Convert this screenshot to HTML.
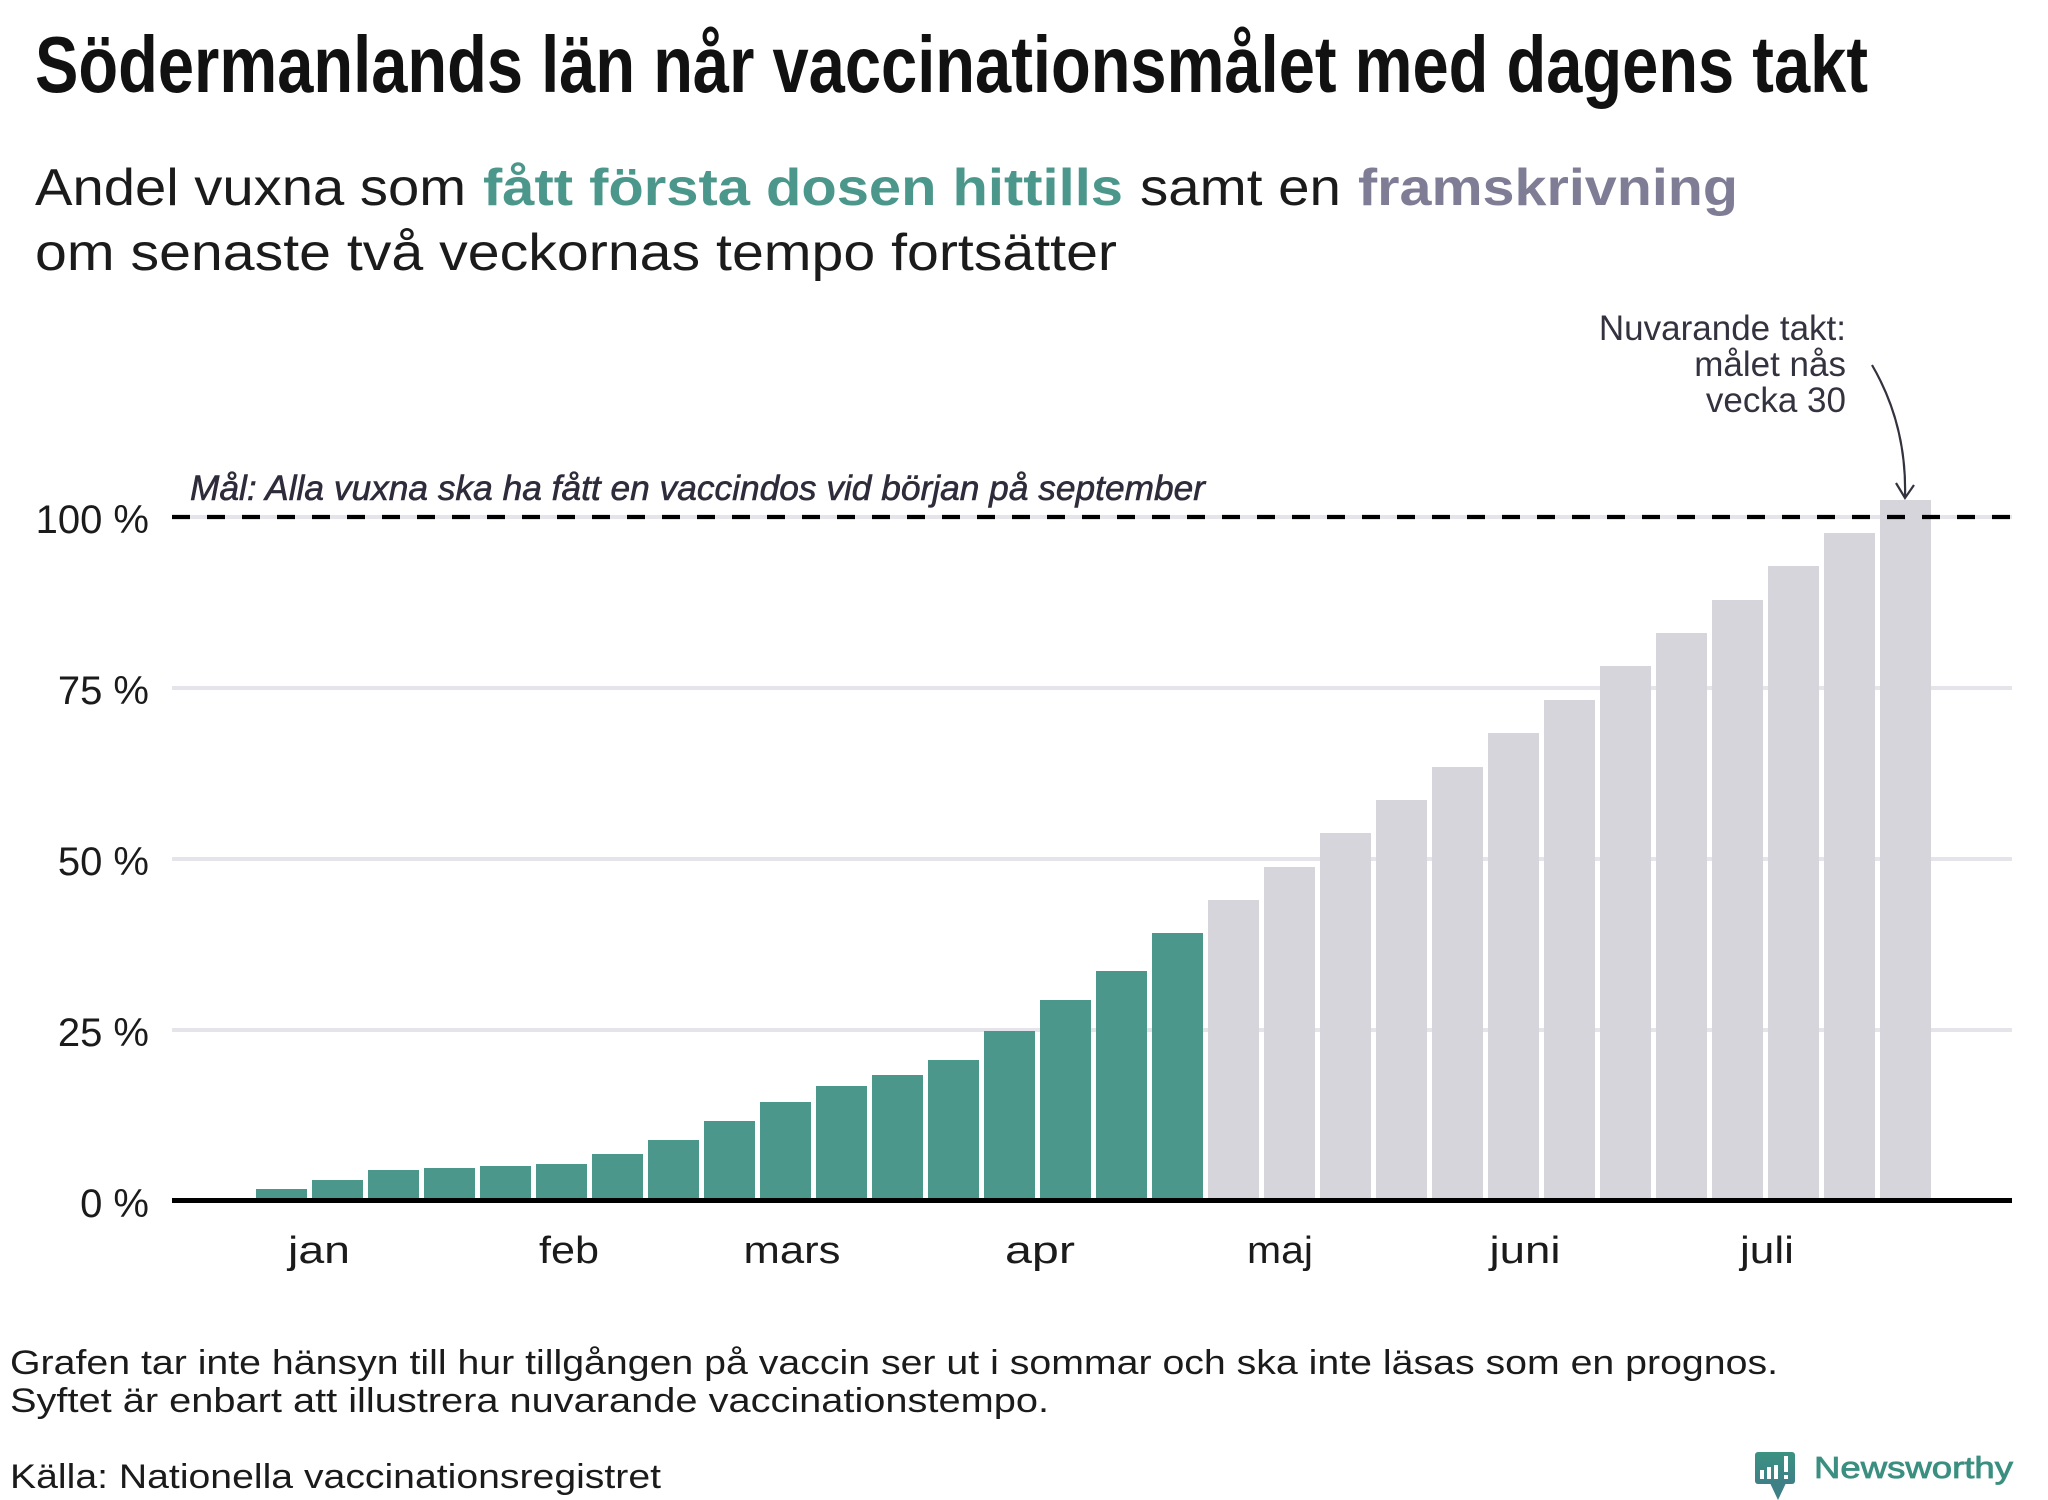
<!DOCTYPE html>
<html>
<head>
<meta charset="utf-8">
<style>
html,body{margin:0;padding:0;background:#fff;overflow:hidden;}
svg{display:block;}
</style>
</head>
<body>
<svg width="2048" height="1500" viewBox="0 0 2048 1500" xmlns="http://www.w3.org/2000/svg">
<rect x="0" y="0" width="2048" height="1500" fill="#ffffff"/>

<!-- Title -->
<text x="35" y="92" font-family="'Liberation Sans', sans-serif" font-weight="bold" font-size="80" textLength="1833" lengthAdjust="spacingAndGlyphs" fill="#111111">Södermanlands län når vaccinationsmålet med dagens takt</text>

<!-- Subtitle -->
<g font-family="'Liberation Sans', sans-serif" font-size="52">
<text x="35" y="205" textLength="431" lengthAdjust="spacingAndGlyphs" fill="#1b1b1b">Andel vuxna som</text>
<text x="483" y="205" textLength="640" lengthAdjust="spacingAndGlyphs" fill="#4b978b" font-weight="bold">fått första dosen hittills</text>
<text x="1140" y="205" textLength="201" lengthAdjust="spacingAndGlyphs" fill="#1b1b1b">samt en</text>
<text x="1358" y="205" textLength="380" lengthAdjust="spacingAndGlyphs" fill="#7f7d96" font-weight="bold">framskrivning</text>
<text x="35" y="270" textLength="1082" lengthAdjust="spacingAndGlyphs" fill="#1b1b1b">om senaste två veckornas tempo fortsätter</text>
</g>

<!-- Gridlines -->
<g fill="#e5e4ea">
<rect x="172" y="515" width="1840" height="4"/>
<rect x="172" y="686" width="1840" height="4"/>
<rect x="172" y="857" width="1840" height="4"/>
<rect x="172" y="1028" width="1840" height="4"/>
</g>

<!-- Bars: green -->
<g fill="#4b978b">
<rect x="256" y="1189" width="51" height="9"/>
<rect x="312" y="1180" width="51" height="18"/>
<rect x="368" y="1170" width="51" height="28"/>
<rect x="424" y="1168" width="51" height="30"/>
<rect x="480" y="1166" width="51" height="32"/>
<rect x="536" y="1164" width="51" height="34"/>
<rect x="592" y="1154" width="51" height="44"/>
<rect x="648" y="1140" width="51" height="58"/>
<rect x="704" y="1121" width="51" height="77"/>
<rect x="760" y="1102" width="51" height="96"/>
<rect x="816" y="1086" width="51" height="112"/>
<rect x="872" y="1075" width="51" height="123"/>
<rect x="928" y="1060" width="51" height="138"/>
<rect x="984" y="1031" width="51" height="167"/>
<rect x="1040" y="1000" width="51" height="198"/>
<rect x="1096" y="971" width="51" height="227"/>
<rect x="1152" y="933" width="51" height="265"/>
</g>
<!-- Bars: grey projection -->
<g fill="#d6d5dc">
<rect x="1208" y="900" width="51" height="298"/>
<rect x="1264" y="867" width="51" height="331"/>
<rect x="1320" y="833" width="51" height="365"/>
<rect x="1376" y="800" width="51" height="398"/>
<rect x="1432" y="767" width="51" height="431"/>
<rect x="1488" y="733" width="51" height="465"/>
<rect x="1544" y="700" width="51" height="498"/>
<rect x="1600" y="666" width="51" height="532"/>
<rect x="1656" y="633" width="51" height="565"/>
<rect x="1712" y="600" width="51" height="598"/>
<rect x="1768" y="566" width="51" height="632"/>
<rect x="1824" y="533" width="51" height="665"/>
<rect x="1880" y="500" width="51" height="698"/>
</g>

<!-- Goal dashed line -->
<line x1="172" y1="517" x2="2012" y2="517" stroke="#000" stroke-width="4.3" stroke-dasharray="18 17"/>

<!-- Zero axis -->
<rect x="172" y="1198" width="1840" height="5" fill="#000"/>

<!-- Y tick labels -->
<g font-family="'Liberation Sans', sans-serif" font-size="40" fill="#1b1b1b" text-anchor="end">
<text x="149" y="533">100 %</text>
<text x="149" y="704">75 %</text>
<text x="149" y="875">50 %</text>
<text x="149" y="1046">25 %</text>
<text x="149" y="1217">0 %</text>
</g>

<!-- X month labels -->
<g font-family="'Liberation Sans', sans-serif" font-size="38" fill="#1b1b1b" text-anchor="middle">
<text x="319" y="1263" textLength="62" lengthAdjust="spacingAndGlyphs">jan</text>
<text x="569" y="1263" textLength="60" lengthAdjust="spacingAndGlyphs">feb</text>
<text x="792" y="1263" textLength="97" lengthAdjust="spacingAndGlyphs">mars</text>
<text x="1040" y="1263" textLength="70" lengthAdjust="spacingAndGlyphs">apr</text>
<text x="1280" y="1263" textLength="66" lengthAdjust="spacingAndGlyphs">maj</text>
<text x="1525" y="1263" textLength="71" lengthAdjust="spacingAndGlyphs">juni</text>
<text x="1767" y="1263" textLength="54" lengthAdjust="spacingAndGlyphs">juli</text>
</g>

<!-- Goal annotation -->
<text x="190" y="500" font-family="'Liberation Sans', sans-serif" font-style="italic" font-size="35" fill="#2e2c3b" stroke="#2e2c3b" stroke-width="0.6" textLength="1015" lengthAdjust="spacingAndGlyphs">Mål: Alla vuxna ska ha fått en vaccindos vid början på september</text>

<!-- Current pace annotation -->
<g font-family="'Liberation Sans', sans-serif" font-size="35" fill="#33323f" text-anchor="end">
<text x="1846" y="340">Nuvarande takt:</text>
<text x="1846" y="376">målet nås</text>
<text x="1846" y="412">vecka 30</text>
</g>
<path d="M1872,365 Q1907,425 1905,497" fill="none" stroke="#33323f" stroke-width="2.2"/>
<path d="M1896,483 L1905,498 L1914,485" fill="none" stroke="#33323f" stroke-width="2.2"/>

<!-- Footer -->
<g font-family="'Liberation Sans', sans-serif" font-size="34" fill="#1b1b1b">
<text x="10" y="1374" textLength="1768" lengthAdjust="spacingAndGlyphs">Grafen tar inte hänsyn till hur tillgången på vaccin ser ut i sommar och ska inte läsas som en prognos.</text>
<text x="10" y="1412" textLength="1039" lengthAdjust="spacingAndGlyphs">Syftet är enbart att illustrera nuvarande vaccinationstempo.</text>
<text x="10" y="1488" textLength="651" lengthAdjust="spacingAndGlyphs">Källa: Nationella vaccinationsregistret</text>
</g>

<!-- Newsworthy logo -->
<defs>
<linearGradient id="lg" x1="0" y1="0" x2="0" y2="1">
<stop offset="0" stop-color="#3b9282"/>
<stop offset="1" stop-color="#3f7f86"/>
</linearGradient>
</defs>
<rect x="1755" y="1452" width="40" height="32" rx="3" fill="url(#lg)"/>
<path d="M1770,1483 L1778,1500 L1786,1483 Z" fill="#3f7f86"/>
<g fill="#ffffff">
<rect x="1760" y="1470" width="4" height="9"/>
<rect x="1767" y="1467" width="4" height="12"/>
<rect x="1774" y="1465" width="4" height="14"/>
<rect x="1784" y="1456" width="4" height="16"/>
<rect x="1784" y="1475" width="4" height="4"/>
</g>
<text x="1814" y="1478" font-family="'Liberation Sans', sans-serif" font-size="31" fill="#3a8f80" stroke="#3a8f80" stroke-width="0.8" textLength="199" lengthAdjust="spacingAndGlyphs">Newsworthy</text>
</svg>
</body>
</html>
